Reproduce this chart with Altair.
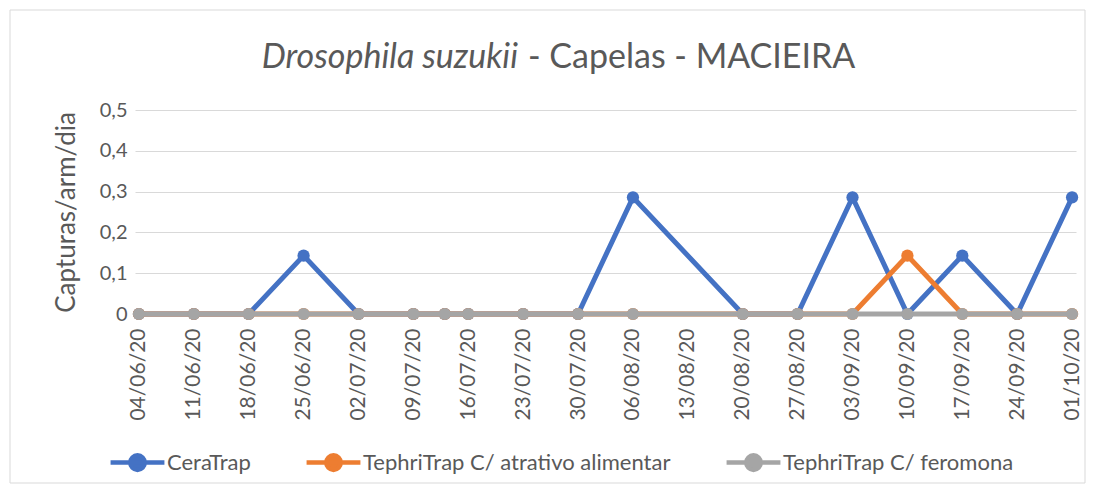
import altair as alt
import pandas as pd

dates = ["2020-06-04", "2020-06-11", "2020-06-18", "2020-06-25", "2020-07-02",
         "2020-07-09", "2020-07-13", "2020-07-16", "2020-07-23", "2020-07-30",
         "2020-08-06", "2020-08-20", "2020-08-27", "2020-09-03", "2020-09-10",
         "2020-09-17", "2020-09-24", "2020-10-01"]
ceratrap = [0, 0, 0, 0.143, 0, 0, 0, 0, 0, 0, 0.286, 0, 0, 0.286, 0, 0.143, 0, 0.286]
atrativo = [0, 0, 0, 0, 0, 0, 0, 0, 0, 0, 0, 0, 0, 0, 0.143, 0, 0, 0]
feromona = [0, 0, 0, 0, 0, 0, 0, 0, 0, 0, 0, 0, 0, 0, 0, 0, 0, 0]

series = ["CeraTrap", "TephriTrap C/ atrativo alimentar", "TephriTrap C/ feromona"]
colors = ["#4472C4", "#ED7D31", "#A5A5A5"]

tick_dates = ["2020-06-04", "2020-06-11", "2020-06-18", "2020-06-25", "2020-07-02",
              "2020-07-09", "2020-07-16", "2020-07-23", "2020-07-30", "2020-08-06",
              "2020-08-13", "2020-08-20", "2020-08-27", "2020-09-03", "2020-09-10",
              "2020-09-17", "2020-09-24", "2020-10-01"]
y_ticks = [0, 0.1, 0.2, 0.3, 0.4, 0.5]

title_italic = "Drosophila suzukii"
title_rest = "- Capelas - MACIEIRA"
y_title = "Capturas/arm/dia"

FONT = "Lato"
TEXT = "#595959"


def ms(s):
    return int(pd.Timestamp(s, tz="UTC").value // 10**6)


rows = []
for name, vals in zip(series, [ceratrap, atrativo, feromona]):
    for d, v in zip(dates, vals):
        rows.append({"date": d, "series": name, "value": v})
df = pd.DataFrame(rows)

x_enc = alt.X(
    "date:T",
    scale=alt.Scale(type="utc", domain=[ms("2020-06-03T12:00"), ms("2020-10-01T12:00")]),
    axis=alt.Axis(
        values=[ms(t) for t in tick_dates],
        labelExpr="utcFormat(datum.value, '%d/%m/%y')",
        labelAngle=-90, labelAlign="right", labelBaseline="middle",
        labelPadding=14, labelFontSize=21, labelColor=TEXT, labelFont=FONT,
        ticks=False, grid=False, domain=True, domainColor="#D9D9D9",
        title=None, labelOverlap=False, labelBound=False, labelFlush=False,
    ),
)
y_enc = alt.Y(
    "value:Q",
    scale=alt.Scale(domain=[0, 0.5], nice=False),
    axis=alt.Axis(
        values=y_ticks,
        labelExpr="datum.value == 0 ? '0' : replace(format(datum.value, '.1f'), '.', ',')",
        labelFontSize=20, labelColor=TEXT, labelFont=FONT, labelPadding=8,
        ticks=False, domain=False, grid=True, gridColor="#D9D9D9", gridWidth=1,
        title=y_title, titleFontSize=26, titleColor=TEXT, titleFont=FONT,
        titleFontWeight="normal", titlePadding=20,
    ),
)
color_enc = alt.Color(
    "series:N",
    scale=alt.Scale(domain=series, range=colors),
    legend=alt.Legend(
        title=None, orient="none", direction="horizontal",
        legendX=-27, legendY=323,
        symbolType="M -1 0 L 1 0 M 0.27 0 A 0.27 0.27 0 1 1 -0.27 0 A 0.27 0.27 0 1 1 0.27 0 Z",
        symbolSize=2900, symbolStrokeWidth=4.5,
        labelFontSize=22, labelColor=TEXT, labelFont=FONT, labelOffset=0,
        labelLimit=0, columnPadding=46, padding=0,
    ),
)

base = alt.Chart(df)
layers = []
for name in series:
    sub = base.transform_filter(alt.datum.series == name)
    layers.append(sub.mark_line(strokeWidth=5).encode(x=x_enc, y=y_enc, color=color_enc))
    layers.append(sub.mark_point(filled=True, size=150, opacity=1).encode(x=x_enc, y=y_enc, color=color_enc))

one = alt.Chart(pd.DataFrame({"a": [0]}))
border = one.mark_rect(fill=None, stroke="#D9D9D9", strokeWidth=1).encode(
    x=alt.value(-125), x2=alt.value(950), y=alt.value(-100), y2=alt.value(373)
)
t1 = one.mark_text(align="right", baseline="middle", fontSize=34, font=FONT,
                   fontStyle="italic", color=TEXT, text=title_italic).encode(
    x=alt.value(383), y=alt.value(-52))
t2 = one.mark_text(align="left", baseline="middle", fontSize=34, font=FONT,
                   color=TEXT, text=title_rest).encode(
    x=alt.value(393), y=alt.value(-52))

chart = alt.layer(border, *layers, t1, t2).properties(
    width=941, height=204, autosize="none",
    padding={"left": 127, "top": 102, "right": 10, "bottom": 170},
).configure_view(stroke=None)

chart.save("out.html", embed_options={"renderer": "svg", "actions": False})
